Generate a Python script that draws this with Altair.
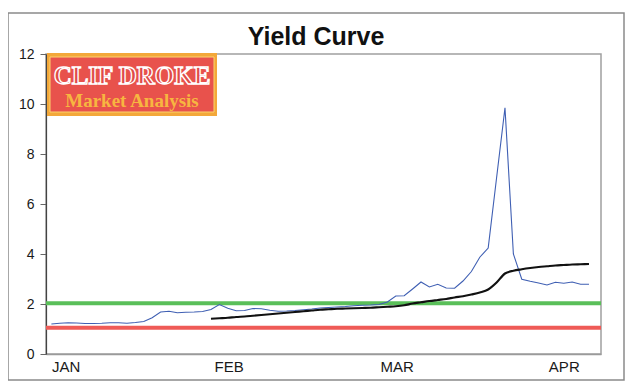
import altair as alt
import pandas as pd

# ---- data ----
months = ["JAN", "FEB", "MAR", "APR"]
month_pos = [1.7, 21.1, 41.1, 61.0]          # trading-day index where each month label sits

blue_values = [
    1.20, 1.23, 1.25, 1.24, 1.22, 1.22, 1.23, 1.25, 1.25, 1.23,
    1.26, 1.30, 1.45, 1.68, 1.71, 1.65, 1.67, 1.68, 1.70, 1.78,
    1.98, 1.83, 1.73, 1.74, 1.82, 1.81, 1.75, 1.71, 1.72, 1.74,
    1.77, 1.80, 1.84, 1.86, 1.88, 1.90, 1.93, 1.95, 1.96, 1.98,
    2.08, 2.32, 2.33, 2.60, 2.88, 2.68, 2.79, 2.64, 2.63, 2.92,
    3.30, 3.87, 4.24, 7.05, 9.85, 4.00, 2.99, 2.91, 2.84, 2.76,
    2.87, 2.83, 2.88, 2.79, 2.79,
]
black_start = 19
black_values = [
    1.41, 1.43, 1.45, 1.48, 1.50, 1.53, 1.56, 1.59, 1.62, 1.65,
    1.68, 1.71, 1.74, 1.77, 1.79, 1.81, 1.82, 1.83, 1.84, 1.85,
    1.87, 1.89, 1.91, 1.95, 2.02, 2.07, 2.12, 2.16, 2.20, 2.26,
    2.31, 2.38, 2.46, 2.58, 2.86, 3.22, 3.33, 3.39, 3.44, 3.48,
    3.51, 3.54, 3.56, 3.58, 3.59, 3.60,
]
ref_levels = [2.03, 1.05]
ref_colors = ["#5abf59", "#ef5b57"]
y_ticks = [0, 2, 4, 6, 8, 10, 12]
title_text = "Yield Curve"
logo_line1 = "CLIF DROKE"
logo_line2 = "Market Analysis"

blue_df = pd.DataFrame({"day": list(range(len(blue_values))), "yield": blue_values})
black_df = pd.DataFrame({"day": list(range(black_start, black_start + len(black_values))),
                         "yield": black_values})
ref_df = pd.DataFrame({"level": ref_levels, "color": ref_colors})
one = pd.DataFrame({"a": [0]})

label_expr = ""
for m, p in zip(months, month_pos):
    label_expr += f"abs(datum.value - {p}) < 1 ? '{m}' : "
label_expr += "''"

x_scale = alt.Scale(domain=[-0.64, 65.43], nice=False, zero=False)
y_scale = alt.Scale(domain=[0, 12], nice=False)
FONT = "Liberation Sans"

x_axis = alt.Axis(values=month_pos, labelExpr=label_expr, ticks=False, grid=False,
                  domainColor="#9a9a9a", domainWidth=1.5, labelFontSize=15, labelFont=FONT,
                  labelColor="#1a1a1a", labelPadding=5, title=None, labelFlush=False,
                  labelOverlap=False)
y_axis = alt.Axis(values=y_ticks, grid=False, tickSize=6, tickColor="#666", tickWidth=1,
                  domainColor="#444", domainWidth=1.2, labelFontSize=14, labelFont=FONT,
                  labelColor="#1a1a1a", labelPadding=6, title=None)

X = alt.X("day:Q", scale=x_scale, axis=x_axis)
Y = alt.Y("yield:Q", scale=y_scale, axis=y_axis)

frame = alt.Chart(one).mark_rect(fill=None, stroke="#8a8a8a", strokeWidth=1.5).encode(
    x=alt.value(-38), x2=alt.value(578), y=alt.value(-41), y2=alt.value(326))

rules = alt.Chart(ref_df).mark_rule(strokeWidth=4).encode(
    y=alt.Y("level:Q", scale=y_scale, axis=y_axis),
    color=alt.Color("color:N", scale=None))

blue = alt.Chart(blue_df).mark_line(color="#3f5fb3", strokeWidth=1.1).encode(x=X, y=Y)
black = alt.Chart(black_df).mark_line(color="#111111", strokeWidth=2.2,
                                      interpolate="monotone").encode(x=X, y=Y)

logo_outer = alt.Chart(one).mark_rect(fill="#f3a83a").encode(
    x=alt.value(1), x2=alt.value(171), y=alt.value(-1), y2=alt.value(62))
logo_inner = alt.Chart(one).mark_rect(fill="#e8524c", stroke="#fbd36e", strokeWidth=1).encode(
    x=alt.value(4), x2=alt.value(168), y=alt.value(3), y2=alt.value(58))
logo_t1 = alt.Chart(one).mark_text(text=logo_line1, font="Liberation Serif", fontSize=25,
                                   fontWeight="bold", fill="#e04a45", stroke="white",
                                   strokeWidth=1.3, align="center", baseline="alphabetic").encode(
    x=alt.value(86), y=alt.value(30))
logo_t2 = alt.Chart(one).mark_text(text=logo_line2, font="Liberation Serif", fontSize=19,
                                   fontWeight="bold", fill="#f7b640", align="center",
                                   baseline="alphabetic").encode(
    x=alt.value(86), y=alt.value(53))
title = alt.Chart(one).mark_text(text=title_text, font=FONT, fontSize=25, fontWeight="bold",
                                 fill="#111111", align="center", baseline="alphabetic").encode(
    x=alt.value(270), y=alt.value(-9))

chart = alt.layer(frame, rules, blue, black, logo_outer, logo_inner, logo_t1, logo_t2, title).properties(
    width=555, height=300,
    padding={"left": 38, "top": 46, "right": 30, "bottom": 29},
    autosize=alt.AutoSizeParams(type="none"),
    background="white",
).configure_view(stroke="#a0a0a0", strokeWidth=1.5)

chart.save("out.html", embed_options={"renderer": "svg", "actions": False})
